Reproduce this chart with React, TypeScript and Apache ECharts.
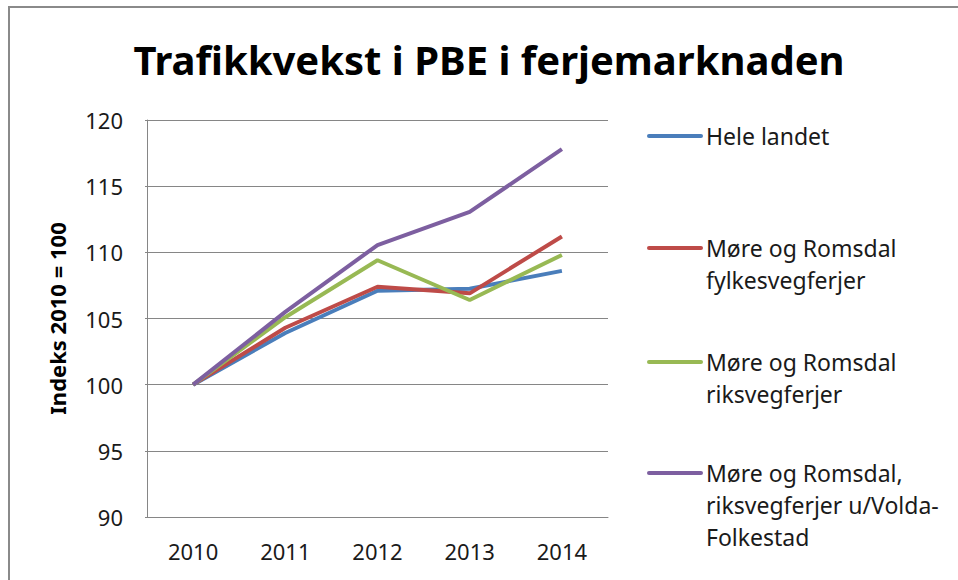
import React, { useEffect, useRef } from "react";
import * as echarts from "echarts";

const categories = ["2010", "2011", "2012", "2013", "2014"];
const seriesNames = [
  "Hele landet",
  "Møre og Romsdal\nfylkesvegferjer",
  "Møre og Romsdal\nriksvegferjer",
  "Møre og Romsdal,\nriksvegferjer u/Volda-\nFolkestad",
];
const heleLandet = [100, 103.9, 107.1, 107.25, 108.6];
const fylkesveg = [100, 104.3, 107.4, 106.9, 111.2];
const riksveg = [100, 105.1, 109.4, 106.4, 109.8];
const riksvegUtenVF = [100, 105.5, 110.55, 113.05, 117.8];
const seriesValues = [heleLandet, fylkesveg, riksveg, riksvegUtenVF];
const colors = ["#4A7EBB", "#BE4B48", "#98B954", "#7D5FA0"];
const yTicks = { min: 90, max: 120, interval: 5 };

const legendY = [136, 248, 362, 473];

export default function App() {
  const ref = useRef<HTMLDivElement>(null);
  useEffect(() => {
    document.body.style.margin = "0";
    const chart = echarts.init(ref.current!, undefined, { renderer: "svg" });
    const font = "'Noto Sans', 'Open Sans', sans-serif";
    const legendGraphics: any[] = [];
    seriesNames.forEach((n, i) => {
      legendGraphics.push({
        type: "line",
        shape: { x1: 649, y1: legendY[i], x2: 701, y2: legendY[i] },
        style: { stroke: colors[i], lineWidth: 4, lineCap: "round" },
      });
      legendGraphics.push({
        type: "text",
        x: 706,
        y: legendY[i] - 16,
        style: {
          text: n,
          fontFamily: font,
          fontSize: 23,
          lineHeight: 32,
          fill: "#1a1a1a",
          textAlign: "left",
          textVerticalAlign: "top",
        },
      });
    });
    chart.setOption({
      animation: false,
      backgroundColor: "#fff",
      title: {
        text: "Trafikkvekst i PBE i ferjemarknaden",
        left: 484,
        top: 34,
        textAlign: "center",
        textStyle: {
          fontFamily: font,
          fontWeight: "bold",
          fontSize: 40,
          color: "#000",
        },
      },
      graphic: [
        {
          type: "rect",
          shape: { x: 9, y: 7, width: 1000, height: 700 },
          style: { fill: "none", stroke: "#8a8a8a", lineWidth: 2 },
          silent: true,
        },
        ...legendGraphics,
      ],
      grid: { left: 147, right: 350, top: 120, bottom: 63 },
      xAxis: {
        type: "category",
        data: categories,
        boundaryGap: true,
        axisLine: { show: true, lineStyle: { color: "#868686", width: 1 } },
        axisTick: { show: false },
        axisLabel: {
          fontFamily: font,
          fontSize: 22,
          color: "#1a1a1a",
          margin: 23,
        },
      },
      yAxis: {
        type: "value",
        min: yTicks.min,
        max: yTicks.max,
        interval: yTicks.interval,
        name: "Indeks 2010 = 100",
        nameLocation: "middle",
        nameGap: 79,
        nameRotate: 90,
        nameTextStyle: {
          fontFamily: font,
          fontWeight: "bold",
          fontSize: 22,
          color: "#000",
        },
        axisLine: { show: true, lineStyle: { color: "#868686", width: 1 } },
        axisTick: { show: true, length: 2, lineStyle: { color: "#868686" } },
        splitLine: { show: true, lineStyle: { color: "#868686", width: 1 } },
        axisLabel: {
          fontFamily: font,
          fontSize: 22,
          color: "#1a1a1a",
          margin: 24,
        },
      },
      series: seriesValues.map((v, i) => ({
        type: "line",
        name: seriesNames[i].replace(/\n/g, " "),
        data: v,
        symbol: "none",
        lineStyle: { color: colors[i], width: 4 },
        itemStyle: { color: colors[i] },
      })),
    });
    return () => chart.dispose();
  }, []);
  return <div ref={ref} style={{ width: 958, height: 580 }} />;
}
